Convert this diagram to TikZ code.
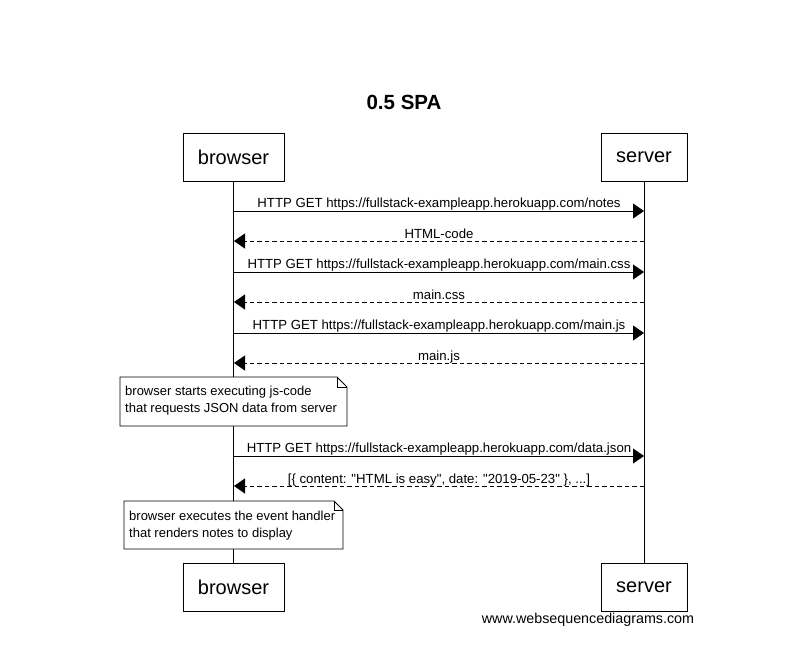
\documentclass[tikz,border=0pt]{standalone}
\usepackage{fontspec}
\setmainfont{Liberation Sans}
\usetikzlibrary{arrows.meta}
\begin{document}
\begin{tikzpicture}[x=1pt,y=-1pt,
  actor/.style={draw,fill=white,line width=0.8pt,minimum width=101pt,minimum height=48pt,font=\fontsize{20}{24}\selectfont,inner sep=0pt},
  sactor/.style={actor,minimum width=86pt},
  msg/.style={line width=0.8pt,-{Triangle[length=11pt,width=15pt]}},
  ret/.style={msg,dash pattern=on 4.5pt off 3pt},
  lbl/.style={font=\fontsize{13.2}{15}\selectfont,inner sep=0pt,anchor=base},
  notebox/.style={draw,fill=white,line width=0.8pt},
  notetext/.style={font=\fontsize{13}{17}\selectfont,align=left,anchor=north west,inner sep=0pt},
  life/.style={line width=0.8pt}]
\useasboundingbox (0,0) rectangle (806,662);
\node[font=\bfseries\fontsize{20.5}{24}\selectfont] (title) at (404,102) {0.5 SPA};
\node[actor] (bt) at (233.5,157) {browser};
\node[sactor] (st) at (644,157) {server};
\node[actor] (bb) at (233.5,587) {browser};
\node[sactor] (sb) at (644,587) {server};
\draw[life] (bt.south) -- (bb.north);
\draw[life] (st.south) -- (sb.north);
% messages
\foreach \y/\n in {211/1,241/2,272/3,302/4,333/5,363/6,456/7,486/8}{
  \coordinate (b\n) at (234,\y);
  \coordinate (s\n) at (644,\y);
}
\draw[msg] (b1) -- node[lbl,yshift=4pt] (m1) {HTTP GET https://fullstack-exampleapp.herokuapp.com/notes} (s1);
\draw[ret] (s2) -- node[lbl,yshift=3pt] (m2) {HTML-code} (b2);
\draw[msg] (b3) -- node[lbl,yshift=4pt] (m3) {HTTP GET https://fullstack-exampleapp.herokuapp.com/main.css} (s3);
\draw[ret] (s4) -- node[lbl,yshift=3pt] (m4) {main.css} (b4);
\draw[msg] (b5) -- node[lbl,yshift=4pt] (m5) {HTTP GET https://fullstack-exampleapp.herokuapp.com/main.js} (s5);
\draw[ret] (s6) -- node[lbl,yshift=3pt] (m6) {main.js} (b6);
\draw[msg] (b7) -- node[lbl,yshift=4pt] (m7) {HTTP GET https://fullstack-exampleapp.herokuapp.com/data.json} (s7);
\draw[ret] (s8) -- node[lbl,yshift=3pt] (m8) {[\{ content: \textquotedbl HTML is easy\textquotedbl, date: \textquotedbl 2019-05-23\textquotedbl\ \}, ...]} (b8);
% notes
\draw[notebox] (120,377) -- (337,377) -- (347,387) -- (347,426) -- (120,426) -- cycle;
\draw[line width=0.8pt] (337,377) -- (337,387) -- (347,387);
\node[notetext] (n1) at (125,386) {browser starts executing js-code\\that requests JSON data from server};
\draw[notebox] (124,501) -- (334,501) -- (343,510) -- (343,549) -- (124,549) -- cycle;
\draw[line width=0.8pt] (334,501) -- (334,510) -- (343,510);
\node[notetext] (n2) at (129,511) {browser executes the event handler\\that renders notes to display};
\node[font=\fontsize{14.3}{16}\selectfont] (wm) at (588,620) {www.websequencediagrams.com};
\end{tikzpicture}
\end{document}
